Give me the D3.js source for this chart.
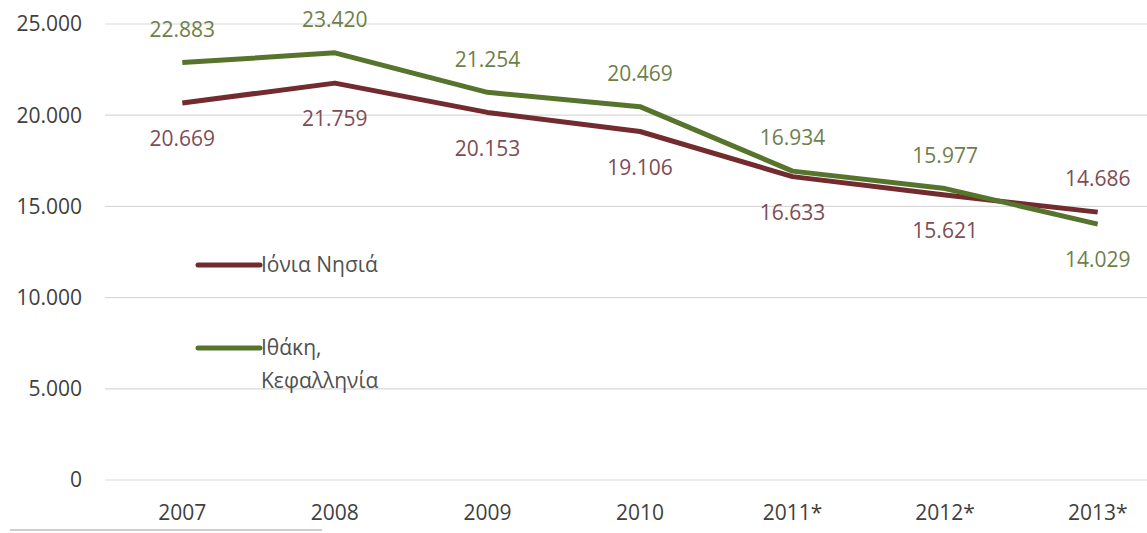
<!DOCTYPE html>
<html>
<head>
<meta charset="utf-8">
<script src="https://cdn.jsdelivr.net/npm/d3@7"></script>
<style>
  body { margin: 0; background: #fff; }
  svg { display: block; }
</style>
</head>
<body>
<div id="chart"></div>
<script>
const years = ["2007", "2008", "2009", "2010", "2011*", "2012*", "2013*"];
const ionian = [20669, 21759, 20153, 19106, 16633, 15621, 14686];
const ithaca = [22883, 23420, 21254, 20469, 16934, 15977, 14029];
const yTicks = [0, 5000, 10000, 15000, 20000, 25000];

// which side of the point the value label sits on (-1 above, +1 below)
const ionianSide = [1, 1, 1, 1, 1, 1, -1];
const ithacaSide = [-1, -1, -1, -1, -1, -1, 1];

const width = 1147;
const height = 533;
const fontSize = 21;
const fmt = v => d3.format(",d")(v).replace(/,/g, ".");

const x = d3.scalePoint().domain(years).range([106, 1174]).padding(0.5);
const y = d3.scaleLinear().domain([0, 25000]).range([480, 24]);

const svg = d3.select("#chart").append("svg")
    .attr("width", width)
    .attr("height", height)
    .attr("font-family", "'Open Sans', sans-serif");

// gridlines
svg.append("g")
  .selectAll("line")
  .data(yTicks)
  .join("line")
    .attr("x1", 105).attr("x2", width)
    .attr("y1", d => y(d)).attr("y2", d => y(d))
    .attr("stroke", "#d9d9d9")
    .attr("stroke-width", 1.2);

// y axis labels
svg.append("g")
  .selectAll("text")
  .data(yTicks)
  .join("text")
    .attr("x", 82)
    .attr("y", d => y(d))
    .attr("dy", "0.35em")
    .attr("text-anchor", "end")
    .attr("font-size", fontSize)
    .attr("fill", "#404040")
    .text(d => d === 0 ? "0" : fmt(d));

// x axis labels
svg.append("g")
  .selectAll("text")
  .data(years)
  .join("text")
    .attr("x", d => x(d))
    .attr("y", 513)
    .attr("dy", "0.35em")
    .attr("text-anchor", "middle")
    .attr("font-size", fontSize)
    .attr("fill", "#404040")
    .text(d => d);

const series = [
  {name: "ionian", values: ionian, side: ionianSide, color: "#722b2e", label: "#7d4d55"},
  {name: "ithaca", values: ithaca, side: ithacaSide, color: "#56742c", label: "#6e7f4a"}
];

const line = d3.line()
    .x((d, i) => x(years[i]))
    .y(d => y(d));

series.forEach(s => {
  svg.append("path")
      .datum(s.values)
      .attr("fill", "none")
      .attr("stroke", s.color)
      .attr("stroke-width", 5)
      .attr("stroke-linejoin", "round")
      .attr("d", line);
});

series.forEach(s => {
  svg.append("g")
    .selectAll("text")
    .data(s.values)
    .join("text")
      .attr("x", (d, i) => x(years[i]))
      .attr("y", (d, i) => y(d) + (s.side[i] < 0 ? -33 : 36))
      .attr("dy", "0.35em")
      .attr("text-anchor", "middle")
      .attr("font-size", fontSize)
      .attr("fill", s.label)
      .text(d => fmt(d));
});

// legend
const legend = svg.append("g");
legend.append("line")
    .attr("x1", 198).attr("x2", 260)
    .attr("y1", 265).attr("y2", 265)
    .attr("stroke", series[0].color).attr("stroke-width", 5)
    .attr("stroke-linecap", "round");
legend.append("text")
    .attr("x", 261).attr("y", 265).attr("dy", "0.35em")
    .attr("font-size", fontSize).attr("fill", "#505050")
    .text("Ιόνια Νησιά");
legend.append("line")
    .attr("x1", 198).attr("x2", 260)
    .attr("y1", 348).attr("y2", 348)
    .attr("stroke", series[1].color).attr("stroke-width", 5)
    .attr("stroke-linecap", "round");
legend.append("text")
    .attr("x", 261).attr("y", 348).attr("dy", "0.35em")
    .attr("font-size", fontSize).attr("fill", "#505050")
    .text("Ιθάκη,");
legend.append("text")
    .attr("x", 261).attr("y", 381).attr("dy", "0.35em")
    .attr("font-size", fontSize).attr("fill", "#505050")
    .text("Κεφαλληνία");

// footnote separator
svg.append("line")
    .attr("x1", 10).attr("x2", 322)
    .attr("y1", 530).attr("y2", 530)
    .attr("stroke", "#bfbfbf").attr("stroke-width", 1.5);
</script>
</body>
</html>
